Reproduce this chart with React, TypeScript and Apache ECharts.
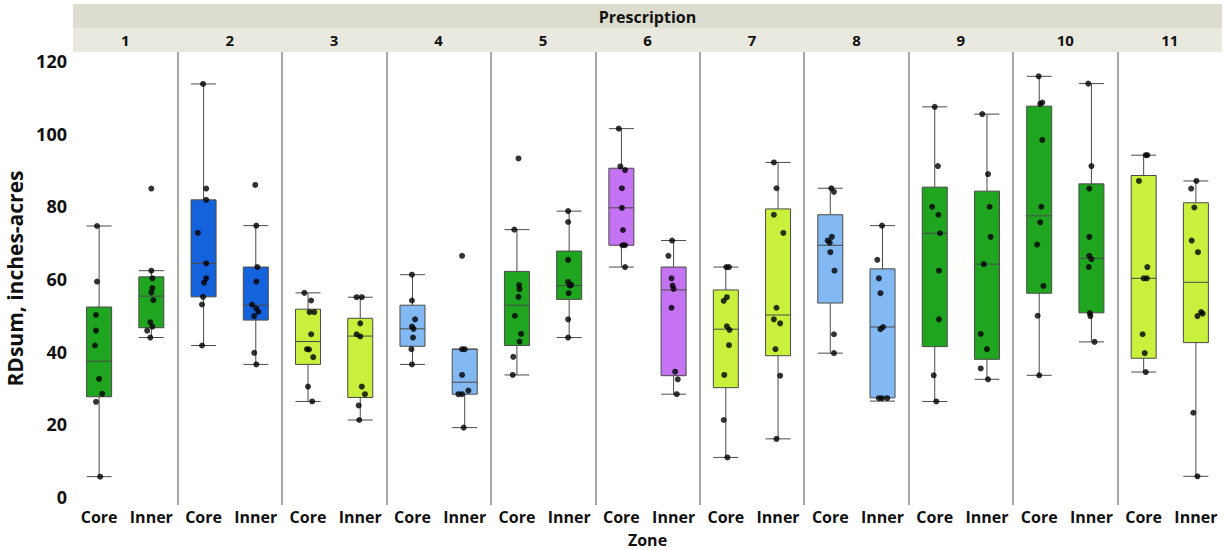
import React, { useEffect, useRef } from "react";
import * as echarts from "echarts";

const prescriptions = ["1", "2", "3", "4", "5", "6", "7", "8", "9", "10", "11"];
const zones = ["Core", "Inner"];
const yTicks = [0, 20, 40, 60, 80, 100, 120];

// box stats per group: [min, Q1, median, Q3, max], order: P1 Core, P1 Inner, P2 Core, ...
const boxStats = [
  [5.6, 27.6, 37.4, 52.3, 74.6],
  [43.9, 46.6, 55.3, 60.6, 62.3],
  [41.7, 55.1, 64.3, 81.8, 113.7],
  [36.5, 48.7, 52.8, 63.3, 74.7],
  [26.3, 36.5, 42.8, 51.7, 56.2],
  [21.2, 27.4, 44.3, 49.2, 55.0],
  [36.5, 41.5, 46.3, 52.8, 61.2],
  [19.1, 28.3, 31.6, 40.7, 40.7],
  [33.6, 41.7, 52.8, 62.1, 73.6],
  [43.9, 54.4, 58.2, 67.7, 78.7],
  [63.3, 69.3, 79.6, 90.5, 101.4],
  [28.3, 33.4, 57.0, 63.3, 70.6],
  [10.9, 30.1, 46.2, 57.0, 63.3],
  [16.0, 38.9, 50.1, 79.3, 92.1],
  [39.6, 53.4, 69.3, 77.7, 85.0],
  [26.4, 27.3, 46.8, 62.8, 74.7],
  [26.3, 41.4, 72.6, 85.3, 107.4],
  [32.4, 37.9, 64.1, 84.2, 105.4],
  [33.5, 56.1, 77.4, 107.6, 115.8],
  [42.7, 50.7, 65.7, 86.2, 113.8],
  [34.4, 38.2, 60.2, 88.5, 94.1],
  [5.7, 42.5, 59.1, 81.0, 87.0],
];

// observed points per group
const pointValues = [
  [74.6, 59.3, 50.1, 45.8, 41.7, 32.5, 28.4, 26.2, 5.6],
  [84.9, 62.3, 60.2, 57.5, 56.3, 54.2, 48.1, 46.9, 45.8, 43.9],
  [113.7, 84.9, 81.8, 72.7, 64.3, 60.2, 59.0, 55.1, 53.0, 41.7],
  [85.9, 74.7, 63.3, 59.3, 53.0, 51.9, 51.0, 49.8, 39.7, 36.5],
  [56.2, 54.1, 50.9, 50.9, 44.8, 40.7, 40.6, 38.5, 30.4, 26.3],
  [55.0, 55.0, 47.8, 44.8, 44.2, 30.4, 28.3, 25.2, 21.2],
  [61.2, 54.1, 48.9, 46.9, 46.3, 43.9, 40.7, 36.5],
  [66.4, 40.7, 40.7, 33.6, 29.3, 28.3, 28.3, 19.1],
  [93.2, 73.6, 58.3, 57.2, 55.1, 49.9, 44.9, 42.8, 38.6, 33.6],
  [78.7, 75.7, 65.3, 59.2, 58.4, 58.2, 56.1, 48.9, 43.9],
  [101.4, 91.0, 90.0, 85.0, 79.6, 73.5, 69.3, 69.3, 63.3],
  [70.6, 66.4, 60.2, 58.2, 57.3, 52.1, 34.5, 32.4, 28.3],
  [63.3, 63.3, 55.0, 54.0, 47.0, 46.0, 41.8, 33.6, 21.2, 10.9],
  [92.1, 85.0, 77.7, 72.7, 52.1, 48.9, 47.8, 40.7, 33.4, 16.0],
  [85.0, 84.0, 71.6, 70.6, 70.0, 67.4, 62.3, 44.8, 39.6],
  [74.7, 65.3, 60.2, 56.1, 46.8, 46.2, 27.2, 27.2, 27.2],
  [107.4, 91.1, 79.9, 77.7, 72.6, 62.3, 48.9, 33.5, 26.3],
  [105.4, 88.9, 79.9, 71.6, 64.1, 44.9, 40.7, 35.4, 32.4],
  [115.8, 108.6, 108.2, 98.3, 79.9, 75.6, 69.5, 58.1, 49.9, 33.5],
  [113.8, 91.1, 84.9, 71.6, 66.4, 65.5, 63.3, 50.6, 49.8, 42.7],
  [94.1, 94.1, 87.0, 63.3, 60.2, 60.2, 44.8, 39.6, 34.4],
  [87.0, 84.9, 79.7, 70.6, 67.4, 50.9, 50.5, 49.8, 23.2, 5.7],
];

// horizontal jitter of each point, in category units
const pointJitter = [
  [-0.04, -0.04, -0.06, -0.06, -0.08, 0, 0.06, -0.06, 0.02],
  [0, 0, 0.02, 0.02, 0, 0.04, -0.02, 0.02, -0.08, -0.02],
  [-0.01, 0.05, 0.05, -0.11, 0.05, 0.05, 0.01, -0.01, -0.03, -0.03],
  [-0.01, 0.01, 0.03, 0.01, -0.07, 0.01, 0.05, -0.03, -0.03, 0.01],
  [-0.07, 0.06, 0.03, 0.12, 0.06, -0.02, 0.02, 0.1, 0, 0.08],
  [-0.07, 0.03, 0, -0.07, 0, 0.03, 0.09, -0.03, -0.02],
  [-0.01, -0.01, 0.05, -0.01, 0.02, 0.01, -0.02, -0.01],
  [-0.05, -0.05, 0, -0.05, 0.07, -0.12, -0.05, -0.02],
  [0.03, -0.05, 0.04, 0.05, 0.03, -0.04, 0.08, 0.05, -0.07, -0.08],
  [-0.02, -0.02, -0.02, -0.02, 0.04, 0.01, -0.01, -0.02, -0.02],
  [-0.05, -0.02, 0.07, 0.01, 0.01, 0.03, 0.02, 0.07, 0.07],
  [-0.03, -0.1, -0.04, -0.02, 0, -0.04, 0.03, 0.08, 0.06],
  [0.01, 0.06, 0.02, -0.04, 0.02, 0.07, 0.06, -0.03, -0.04, 0.03],
  [-0.08, -0.03, -0.08, 0.1, -0.03, -0.08, 0.04, -0.05, 0.04, -0.03],
  [0.02, 0.07, 0.03, -0.05, -0.01, 0, 0.08, 0.07, 0.07],
  [-0.01, -0.1, -0.07, -0.04, 0.01, -0.04, -0.07, -0.01, 0.09],
  [0, 0.06, -0.05, 0.07, 0.1, 0.08, 0.08, -0.02, 0.03],
  [-0.09, 0.02, 0.05, 0.07, -0.06, -0.12, 0, -0.12, 0.02],
  [-0.01, 0.06, 0.02, 0.06, 0.04, 0.02, -0.04, 0.08, -0.03, 0],
  [-0.06, 0, -0.04, -0.04, -0.04, 0, -0.05, -0.03, -0.02, 0.06],
  [0.04, 0.07, -0.09, 0.07, 0, 0.06, -0.02, 0.02, 0.04],
  [0.01, -0.09, -0.03, -0.08, 0.04, 0.1, 0.13, 0.03, -0.05, 0.03],
];

const GREEN = "#1fa51f";
const BLUE = "#1462dc";
const LIME = "#c9f03c";
const LIGHTBLUE = "#82b9f2";
const PURPLE = "#c474f2";
const prescriptionColors = [GREEN, BLUE, LIME, LIGHTBLUE, GREEN, PURPLE, LIME, LIGHTBLUE, GREEN, GREEN, LIME];

const FONT = "'Open Sans', 'Noto Sans', sans-serif";

export default function App() {
  const ref = useRef<HTMLDivElement>(null);

  useEffect(() => {
    if (!ref.current) return;
    const chart = echarts.init(ref.current, null, { renderer: "svg" });

    const categories: string[] = [];
    prescriptions.forEach(() => zones.forEach((z) => categories.push(z)));

    const boxData = boxStats.map((s, i) => ({
      value: s,
      itemStyle: {
        color: prescriptionColors[Math.floor(i / 2)],
        borderColor: "#4a4a4a",
        borderWidth: 1,
      },
    }));

    const scatterData: number[][] = [];
    pointValues.forEach((vals, i) => {
      vals.forEach((v, j) => scatterData.push([i + pointJitter[i][j], v]));
    });

    const separators = prescriptions.slice(1).map((_, k) => ({ xAxis: 2 * (k + 1) - 0.5 }));

    const left = 73;
    const right = 3;
    const plotW = 1225 - left - right;

    chart.setOption({
      animation: false,
      backgroundColor: "#ffffff",
      grid: {
        left,
        right,
        top: 52,
        height: 453,
        containLabel: false,
        outerBoundsMode: "none",
      },
      graphic: [
        {
          type: "rect",
          z: -10,
          shape: { x: left, y: 4, width: plotW, height: 24 },
          style: { fill: "#dcdccf" },
          silent: true,
        },
        {
          type: "rect",
          z: -10,
          shape: { x: left, y: 28, width: plotW, height: 24 },
          style: { fill: "#e9e9e0" },
          silent: true,
        },
        {
          type: "text",
          x: left + plotW / 2,
          y: 17,
          style: {
            text: "Prescription",
            fill: "#111",
            font: `bold 16px ${FONT}`,
            textAlign: "center",
            textVerticalAlign: "middle",
          },
          silent: true,
        },
      ],
      xAxis: [
        {
          type: "category",
          data: categories,
          position: "bottom",
          boundaryGap: true,
          axisLine: { show: false },
          axisTick: { show: false },
          splitLine: { show: false },
          axisLabel: {
            interval: 0,
            margin: 4,
            color: "#111",
            fontFamily: FONT,
            fontWeight: "bold",
            fontSize: 16,
          },
          name: "Zone",
          nameLocation: "middle",
          nameGap: 27,
          nameTextStyle: { color: "#111", fontFamily: FONT, fontWeight: "bold", fontSize: 16 },
        },
        {
          type: "value",
          min: -0.5,
          max: 21.5,
          show: false,
        },
        {
          type: "category",
          data: prescriptions,
          position: "top",
          boundaryGap: true,
          axisLine: { show: false },
          axisTick: { show: false },
          splitLine: { show: false },
          axisLabel: {
            interval: 0,
            margin: 5,
            color: "#111",
            fontFamily: FONT,
            fontWeight: "bold",
            fontSize: 15,
          },
        },
      ],
      yAxis: {
        type: "value",
        min: -2.2,
        max: 122.5,
        axisLine: { show: false },
        axisTick: { show: false },
        splitLine: { show: false },
        axisLabel: {
          customValues: yTicks,
          margin: 6,
          color: "#111",
          fontFamily: FONT,
          fontWeight: "bold",
          fontSize: 18,
        },
        name: "RDsum, inches-acres",
        nameLocation: "middle",
        nameGap: 44,
        nameRotate: 90,
        nameTextStyle: { color: "#111", fontFamily: FONT, fontWeight: "bold", fontSize: 21 },
      },
      series: [
        {
          type: "boxplot",
          xAxisIndex: 0,
          yAxisIndex: 0,
          boxWidth: [25, 25],
          data: boxData,
          silent: true,
        },
        {
          type: "scatter",
          xAxisIndex: 1,
          yAxisIndex: 0,
          symbol: "circle",
          symbolSize: 6,
          itemStyle: { color: "#000" },
          data: scatterData,
          silent: true,
          z: 5,
          markLine: {
            silent: true,
            symbol: ["none", "none"],
            label: { show: false },
            lineStyle: { color: "#8a8a8a", width: 1.5, type: "solid" },
            data: separators,
          },
        },
      ],
    });

    return () => chart.dispose();
  }, []);

  return (
    <div
      ref={ref}
      style={{ position: "fixed", left: 0, top: 0, width: 1225, height: 550 }}
    />
  );
}
